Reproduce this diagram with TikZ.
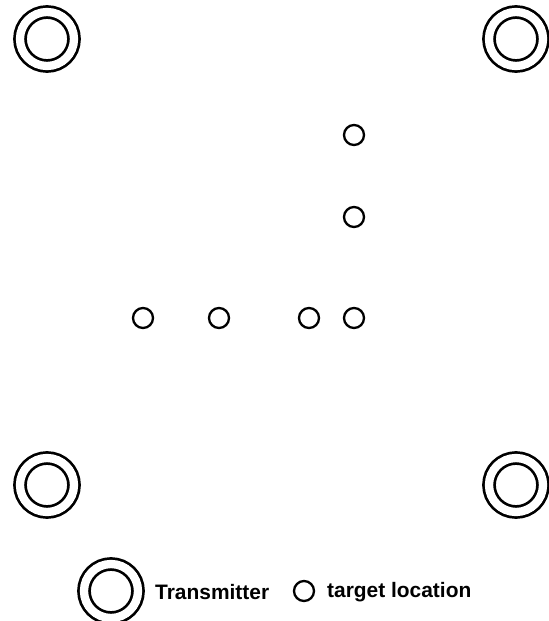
\documentclass[tikz,border=0pt]{standalone}
\usepackage{fontspec}
\setmainfont{Liberation Sans}
\begin{document}
\begin{tikzpicture}[x=1bp,y=-1bp,
  tx/.style={circle, draw, inner sep=0pt, minimum size=54bp, line width=2.7bp, double, double distance=8.3bp},
  target/.style={circle, draw, inner sep=0pt, minimum size=20bp, line width=2.3bp},
  lbl/.style={anchor=west, inner sep=0pt, font=\fontsize{21}{24}\selectfont\bfseries}]
\useasboundingbox (0,0) rectangle (549,621);
% transmitters
\node[tx] (t1) at (47,39) {};
\node[tx] (t2) at (516,39) {};
\node[tx] (t3) at (47,485) {};
\node[tx] (t4) at (516,485) {};
% targets
\node[target] (p1) at (354,135) {};
\node[target] (p2) at (354,217) {};
\node[target] (p3) at (143,318) {};
\node[target] (p4) at (219,318) {};
\node[target] (p5) at (309,318) {};
\node[target] (p6) at (354,318) {};
% legend
\node[tx] (lt) at (111,591) {};
\node[lbl] (ltt) at (155,592) {Transmitter};
\node[target] (lp) at (304,591) {};
\node[lbl] (lpt) at (327,592) {target location};
\end{tikzpicture}
\end{document}
